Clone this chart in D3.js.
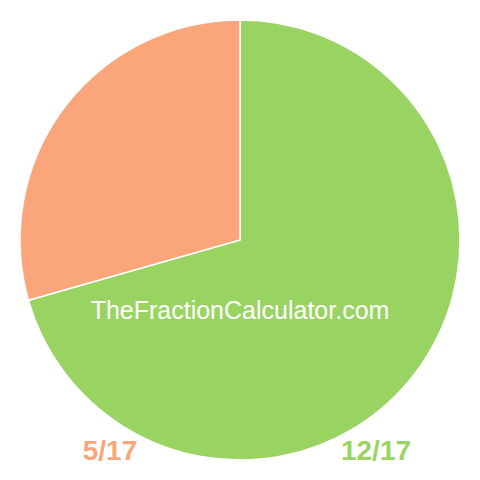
<!DOCTYPE html>
<html>
<head>
<meta charset="utf-8">
<script src="https://cdn.jsdelivr.net/npm/d3@7.9.0/dist/d3.min.js"></script>
<style>
  body { margin: 0; background: #fff; }
</style>
</head>
<body>
<svg id="chart" width="480" height="480"></svg>
<script>
const labels = ['12/17', '5/17'];
const values = [12, 5];
const colors = ['#99d462', '#fba57a'];

const svg = d3.select('#chart');
const cx = 240, cy = 240, r = 220;

let pie = d3.pie().sort(null).value((d) => d);
let arc = d3.arc().innerRadius(0).outerRadius(r);

let g = svg.append('g').attr('transform', `translate(${cx},${cy})`);

g.selectAll('path')
    .data(pie(values))
    .join('path')
    .attr('d', arc)
    .attr('fill', (d, i) => colors[i])
    .attr('stroke', '#fff')
    .attr('stroke-width', 1.5);

svg.append('text')
    .attr('x', 240)
    .attr('y', 319)
    .attr('text-anchor', 'middle')
    .attr('font-family', 'Liberation Sans, Arial, sans-serif')
    .attr('font-size', 25)
    .attr('fill', '#fff')
    .text('TheFractionCalculator.com');

// labels under the pie
const labelX = [376, 110];
labels.forEach((l, i) => {
    svg.append('text')
        .attr('x', labelX[i])
        .attr('y', 460)
        .attr('text-anchor', 'middle')
        .attr('font-family', 'Liberation Sans, Arial, sans-serif')
        .attr('font-weight', 'bold')
        .attr('font-size', 28)
        .attr('fill', colors[i])
        .text(l);
});
</script>
</body>
</html>
